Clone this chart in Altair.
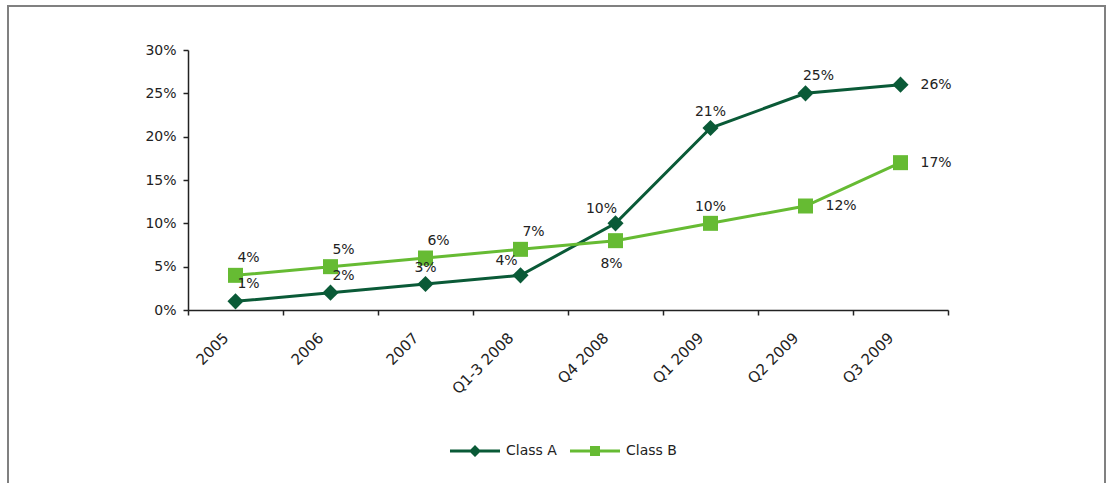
import altair as alt
import pandas as pd

# Categories and series values
periods = ["2005", "2006", "2007", "Q1-3 2008", "Q4 2008", "Q1 2009", "Q2 2009", "Q3 2009"]
class_a = [0.01, 0.02, 0.03, 0.04, 0.10, 0.21, 0.25, 0.26]
class_b = [0.04, 0.05, 0.06, 0.07, 0.08, 0.10, 0.12, 0.17]
series_names = ["Class A", "Class B"]

# Where each value label sits relative to its marker
place_a = ["above-right", "above-right", "above", "above-left", "above-left", "above", "above-right", "right"]
place_b = ["above-right", "above-right", "above-right", "above-right", "below", "above", "right", "right"]

y_ticks = [0, 0.05, 0.10, 0.15, 0.20, 0.25, 0.30]

COLORS = {"Class A": "#0a5a37", "Class B": "#66bb33"}
MARKERS = {"Class A": ("diamond", 260), "Class B": ("square", 225)}
FONT = "DejaVu Sans"
TEXT = "#222222"
AXIS = "#222222"

rows = []
for name, vals, places in [("Class A", class_a, place_a), ("Class B", class_b, place_b)]:
    for p, v, pl in zip(periods, vals, places):
        rows.append({"period": p, "series": name, "value": v, "place": pl})
df = pd.DataFrame(rows)

x_enc = alt.X(
    "period:N",
    sort=periods,
    scale=alt.Scale(type="band", paddingInner=0, paddingOuter=0),
    axis=alt.Axis(
        title=None,
        tickBand="extent",
        labelAngle=-45,
        labelAlign="right",
        labelBaseline="middle",
        labelPadding=20,
        labelOffset=-10,
        labelFont=FONT,
        labelFontSize=15,
        labelColor=TEXT,
        tickSize=5,
        domainColor=AXIS,
        tickColor=AXIS,
        domainWidth=1.5,
        tickWidth=1.5,
    ),
)
y_enc = alt.Y(
    "value:Q",
    scale=alt.Scale(domain=[0, 0.3], nice=False),
    axis=alt.Axis(
        title=None,
        values=y_ticks,
        format=".0%",
        grid=False,
        tickSize=5,
        labelPadding=7,
        labelFont=FONT,
        labelFontSize=14,
        labelColor=TEXT,
        domainColor=AXIS,
        tickColor=AXIS,
        domainWidth=1.5,
        tickWidth=1.5,
    ),
)

base = alt.Chart(df)

# One line and one marker layer per series
series_layers = []
for name in series_names:
    shape, size = MARKERS[name]
    sub = base.transform_filter(alt.datum.series == name)
    series_layers.append(
        sub.mark_line(strokeWidth=3, color=COLORS[name]).encode(x=x_enc, y=y_enc)
    )
    series_layers.append(
        sub.mark_point(shape=shape, filled=True, size=size, opacity=1, color=COLORS[name]).encode(
            x=x_enc, y=y_enc
        )
    )

# Legend symbols: a short line with the series marker on it
legend_a = "M-1.667,-0.1L1.667,-0.1L1.667,0.1L-1.667,0.1Z M0,-0.4L0.4,0L0,0.4L-0.4,0Z"
legend_b = "M-1.667,-0.1L1.667,-0.1L1.667,0.1L-1.667,0.1Z M-0.333,-0.333L0.333,-0.333L0.333,0.333L-0.333,0.333Z"
legend_common = dict(
    title=None,
    orient="none",
    direction="horizontal",
    legendX=272,
    legendY=386,
    symbolSize=900,
    symbolOpacity=1,
    symbolStrokeWidth=0,
    labelOffset=16,
    columnPadding=12,
    labelFont=FONT,
    labelFontSize=14,
    labelColor=TEXT,
)
legend_layer = base.mark_point(filled=True, opacity=0).encode(
    x=x_enc,
    y=y_enc,
    color=alt.Color(
        "series:N",
        scale=alt.Scale(domain=series_names, range=[COLORS[n] for n in series_names]),
        legend=alt.Legend(**legend_common),
    ),
    shape=alt.Shape(
        "series:N",
        scale=alt.Scale(domain=series_names, range=[legend_a, legend_b]),
        legend=alt.Legend(**legend_common),
    ),
)

# Value labels, one layer per placement
offsets = {
    "above-right": dict(dx=13, dy=-17, align="center"),
    "above": dict(dx=0, dy=-16, align="center"),
    "above-left": dict(dx=-14, dy=-14, align="center"),
    "right": dict(dx=20, dy=0, align="left"),
    "below": dict(dx=-4, dy=23, align="center"),
}
label_layers = []
for name, o in offsets.items():
    label_layers.append(
        base.transform_filter(alt.datum.place == name)
        .mark_text(font=FONT, fontSize=14, color=TEXT, baseline="middle", **o)
        .encode(x=x_enc, y=y_enc, text=alt.Text("value:Q", format=".0%"))
    )

# Outer frame around the whole figure
frame = alt.Chart(pd.DataFrame({"k": [0]})).mark_rect(
    fillOpacity=0, stroke="#808080", strokeWidth=2
).encode(
    x=alt.value(-180), x2=alt.value(917), y=alt.value(-44), y2=alt.value(445)
)

chart = (
    alt.layer(frame, *series_layers, *label_layers, legend_layer)
    .properties(
        width=760,
        height=260,
        background="white",
        autosize=alt.AutoSizeParams(type="none"),
        padding={"left": 188, "top": 50, "right": 161, "bottom": 173},
    )
    .configure_view(strokeWidth=0, stroke="transparent")
)

chart.save("out.html", embed_options={"renderer": "svg", "actions": False})
